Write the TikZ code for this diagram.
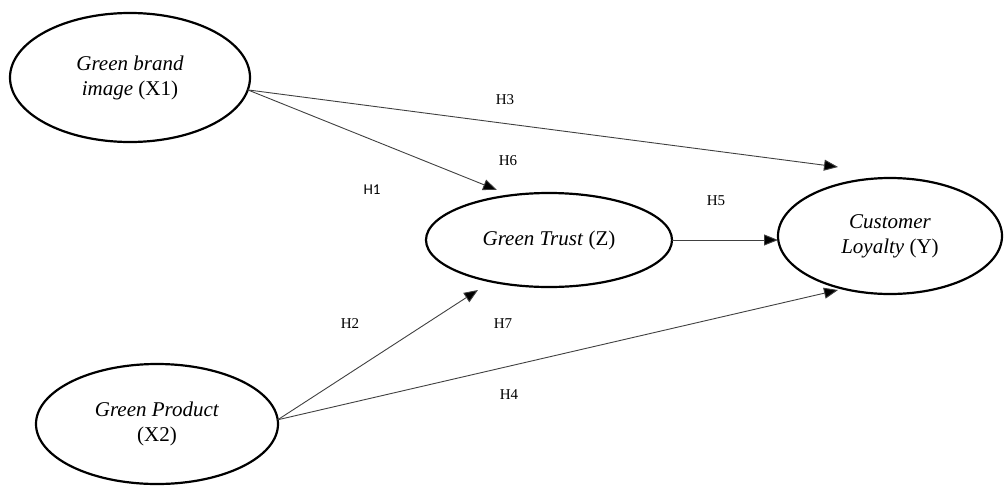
\documentclass[tikz,border=0pt]{standalone}
\usepackage{fontspec}
\setmainfont{Liberation Serif}
\newfontfamily\hsans{Carlito}
\usetikzlibrary{arrows.meta,shapes.geometric}
\begin{document}
\begin{tikzpicture}[x=1pt,y=-1pt,
  var/.style={draw=black,line width=2.2pt,ellipse,inner sep=0pt,outer sep=0pt,
    font=\fontsize{21}{25}\selectfont,align=center},
  hyp/.style={font=\fontsize{15}{18}\selectfont},
  link/.style={draw=black!75,line width=0.9pt,-{Triangle[length=14pt,width=11pt,fill=black]}}]
\useasboundingbox (0,0) rectangle (1006,485);
\node[var,minimum width=240pt,minimum height=129pt] (x1) at (130,77.5) {\textit{Green brand}\\\textit{image} (X1)};
\node[var,minimum width=246pt,minimum height=94pt] (z) at (549,240) {\textit{Green Trust} (Z)};
\node[var,minimum width=224pt,minimum height=116pt] (y) at (890,236) {\textit{Customer}\\\textit{Loyalty} (Y)};
\node[var,minimum width=242pt,minimum height=120pt] (x2) at (157,424) {\textit{Green Product}\\(X2)};
\coordinate (t1) at (497,190);
\coordinate (t2) at (478,290);
\coordinate (t3) at (838,167);
\coordinate (t4) at (838,290);
\draw[link] (x1.-6) -- (t1);
\draw[link] (x1.-6) -- (t3);
\draw[link] (z.east) -- (z.east -| y.west);
\draw[link] (x2.2) -- (t2);
\draw[link] (x2.2) -- (t4);
\node[hyp] (h3) at (505,100) {H3};
\node[hyp] (h6) at (508,161) {H6};
\node[hyp,font=\hsans\fontsize{15}{18}\selectfont] (h1) at (372,190) {H1};
\node[hyp] (h5) at (716,201) {H5};
\node[hyp] (h2) at (350,324) {H2};
\node[hyp] (h7) at (503,324) {H7};
\node[hyp] (h4) at (509,395) {H4};
\end{tikzpicture}
\end{document}
